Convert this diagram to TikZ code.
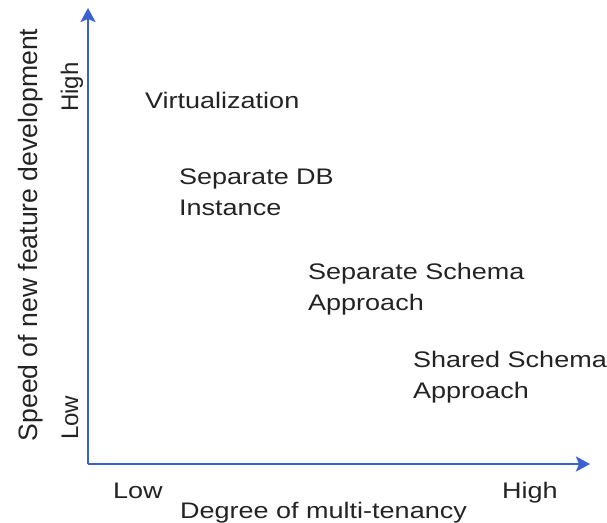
\documentclass[tikz,border=0pt]{standalone}
\usepackage{fontspec}
\setmainfont{Liberation Sans}
\newfontfamily\widefont[FakeStretch=1.2]{Liberation Sans}
\usetikzlibrary{arrows.meta}

\definecolor{axisblue}{RGB}{60,96,208}
\definecolor{labelgray}{RGB}{35,35,35}

\def\txtsize{\fontsize{22.5}{31}\selectfont}

\begin{document}
\begin{tikzpicture}
[x=1pt,y=-1pt,
axis/.style={
  draw=axisblue, line width=2.6pt,
  -{Stealth[length=14pt,width=15pt,inset=3pt]}
},
approach/.style={
  font=\widefont\txtsize, text=labelgray, align=left,
  inner sep=0pt, anchor=base west
},
tick/.style={
  font=\widefont\txtsize, text=labelgray, inner sep=0pt, anchor=base west
},
sidetick/.style={
  font=\fontsize{24}{29}\selectfont, text=labelgray, inner sep=0pt,
  rotate=90, anchor=base west
},
sidelabel/.style={
  font=\fontsize{26.6}{30}\selectfont, text=labelgray, inner sep=0pt,
  rotate=90, anchor=base
}
]
\useasboundingbox (0,0) rectangle (607,522);

% Axes
\coordinate (origin) at (88,464);
\coordinate (xend) at (590,464);
\coordinate (yend) at (88,8);
\draw[axis] (origin) -- (yend);
\draw[axis] (origin) -- (xend);

% Approaches (base = baseline of the last line)
\node[approach] (virt) at (145,108) {Virtualization};
\node[approach] (sepdb) at (179,215) {Separate DB\\Instance};
\node[approach] (sepschema) at (308,310) {Separate Schema\\Approach};
\node[approach] (shared) at (413,398) {Shared Schema\\Approach};

% x axis labels
\node[tick] (xlow) at (113,498) {Low};
\node[tick] (xhigh) at (502,498) {High};
\node[tick] (xlabel) at (180,518) {Degree of multi-tenancy};

% y axis labels
\node[sidetick] (ylow) at (78,440) {Low};
\node[sidetick] (yhigh) at (78,112) {High};
\node[sidelabel] (ylabel) at (37,235) {Speed of new feature development};

\end{tikzpicture}
\end{document}
